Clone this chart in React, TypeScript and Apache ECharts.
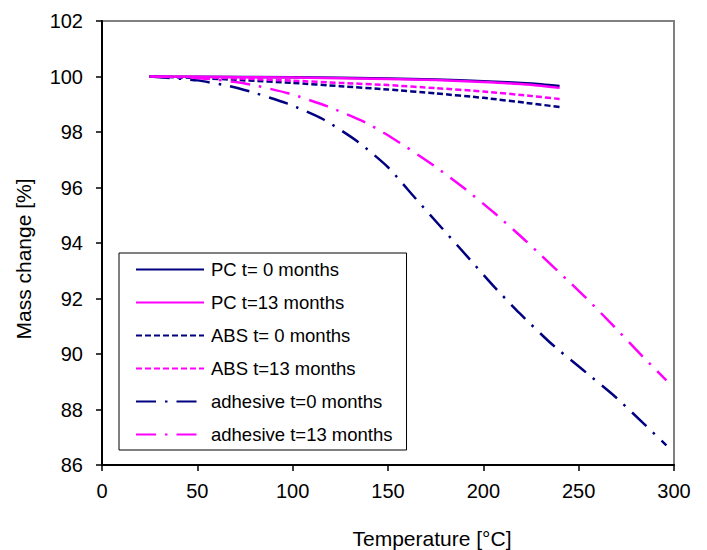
import React, { useEffect, useRef } from "react";
import * as echarts from "echarts";

const xTicks = [0, 50, 100, 150, 200, 250, 300];
const yTicks = [86, 88, 90, 92, 94, 96, 98, 100, 102];

const pcT0: [number, number][] = [
  [25, 100], [50, 99.99], [100, 99.97], [150, 99.93], [175, 99.89], [200, 99.83], [225, 99.75], [240, 99.66],
];
const pcT13: [number, number][] = [
  [25, 100], [50, 99.99], [100, 99.96], [150, 99.91], [175, 99.87], [200, 99.8], [225, 99.7], [240, 99.59],
];
const absT0: [number, number][] = [
  [25, 100], [50, 99.95], [75, 99.86], [100, 99.77], [125, 99.65], [150, 99.53], [175, 99.39], [200, 99.23], [225, 99.03], [240, 98.9],
];
const absT13: [number, number][] = [
  [25, 100], [50, 99.98], [75, 99.92], [100, 99.85], [125, 99.77], [150, 99.69], [175, 99.58], [200, 99.46], [225, 99.3], [240, 99.19],
];
const adhT0: [number, number][] = [
  [25, 100], [50, 99.86], [72, 99.57], [97, 99.03], [116, 98.46], [134, 97.66], [150, 96.73], [164, 95.64],
  [178, 94.56], [192, 93.48], [206, 92.4], [219, 91.47], [236, 90.35], [252, 89.44], [269, 88.47], [284, 87.5], [296, 86.71],
];
const adhT13: [number, number][] = [
  [25, 100], [50, 99.95], [75, 99.75], [98, 99.39], [118, 98.93], [137, 98.38], [151, 97.84], [173, 96.84],
  [190, 95.97], [206, 95.07], [222, 94.09], [253, 92.08], [268, 91.03], [282, 90.02], [296, 89.05],
];

const seriesNames = [
  "PC t= 0 months",
  "PC t=13 months",
  "ABS t= 0 months",
  "ABS t=13 months",
  "adhesive t=0 months",
  "adhesive t=13 months",
];

const NAVY = "#000080";
const MAGENTA = "#FF00FF";
const FONT = "'Liberation Sans', Arial, sans-serif";

export default function App() {
  const ref = useRef<HTMLDivElement>(null);
  useEffect(() => {
    if (!ref.current) return;
    const chart = echarts.init(ref.current, null, { renderer: "svg" });
    const mk = (name: string, data: [number, number][], color: string, type: any, smooth = 0.2) => ({
      name,
      type: "line",
      data,
      showSymbol: false,
      symbol: "none",
      smooth,
      lineStyle: { color, width: 2.5, type, cap: "butt" },
      itemStyle: { color },
      z: 3,
    });
    chart.setOption({
      animation: false,
      backgroundColor: "#ffffff",
      textStyle: { fontFamily: FONT },
      grid: {
        left: 102,
        right: 33,
        top: 21,
        bottom: 85,
        show: true,
        borderColor: "#808080",
        borderWidth: 2,
        backgroundColor: "transparent",
      },
      xAxis: {
        type: "value",
        min: xTicks[0],
        max: xTicks[xTicks.length - 1],
        interval: 50,
        axisLine: { show: true, onZero: false, lineStyle: { color: "#000", width: 2 } },
        axisTick: { show: true, inside: false, length: 6, lineStyle: { color: "#000", width: 1.5 } },
        axisLabel: { color: "#000", fontSize: 20, margin: 16, fontFamily: FONT },
        splitLine: { show: false },
      },
      yAxis: {
        type: "value",
        min: yTicks[0],
        max: yTicks[yTicks.length - 1],
        interval: 2,
        axisLine: { show: true, onZero: false, lineStyle: { color: "#000", width: 2 } },
        axisTick: { show: true, inside: false, length: 6, lineStyle: { color: "#000", width: 1.5 } },
        axisLabel: { color: "#000", fontSize: 20, margin: 19, fontFamily: FONT },
        splitLine: { show: false },
      },
      legend: {
        orient: "vertical",
        left: 119,
        top: 253,
        data: seriesNames,
        backgroundColor: "#ffffff",
        borderColor: "#000",
        borderWidth: 1,
        borderRadius: 0,
        padding: [6, 14, 5, 16],
        itemWidth: 68,
        itemHeight: 14,
        itemGap: 12,
        selectedMode: false,
        itemStyle: { opacity: 0 },
        textStyle: { color: "#000", fontSize: 18.5, fontFamily: FONT, lineHeight: 21, padding: [0, 0, 0, 2] },
      },
      graphic: [
        {
          type: "text",
          x: 432,
          y: 538,
          style: {
            text: "Temperature [°C]",
            font: `21px ${FONT}`,
            fill: "#000",
            align: "center",
            verticalAlign: "middle",
          },
        },
        {
          type: "text",
          x: 23,
          y: 259,
          rotation: Math.PI / 2,
          style: {
            text: "Mass change [%]",
            font: `21px ${FONT}`,
            fill: "#000",
            align: "center",
            verticalAlign: "middle",
          },
        },
      ],
      series: [
        mk(seriesNames[0], pcT0, NAVY, "solid"),
        mk(seriesNames[1], pcT13, MAGENTA, "solid"),
        mk(seriesNames[2], absT0, NAVY, [6, 3]),
        mk(seriesNames[3], absT13, MAGENTA, [6, 3]),
        mk(seriesNames[4], adhT0, NAVY, [20, 9, 2.5, 9]),
        mk(seriesNames[5], adhT13, MAGENTA, [20, 9, 2.5, 9]),
      ],
    });
    return () => chart.dispose();
  }, []);
  return <div ref={ref} style={{ width: 707, height: 550, position: "absolute", left: 0, top: 0 }} />;
}
